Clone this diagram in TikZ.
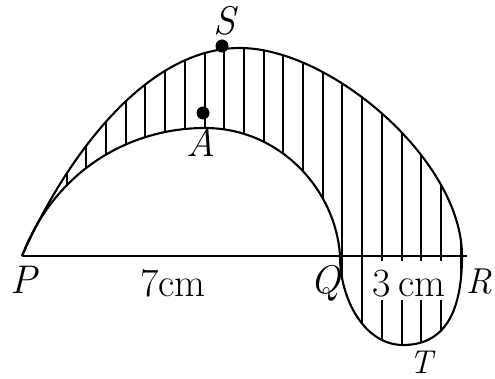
\documentclass[tikz,border=0pt]{standalone}
\begin{document}
\begin{tikzpicture}[x=1pt,y=-1pt,
  outline/.style={line width=2.1pt,line join=round},
  hatch/.style={line width=2pt},
  base/.style={line width=2.3pt},
  dot/.style={circle,fill=black,inner sep=0pt,minimum size=13pt},
  lbl/.style={font=\fontsize{40}{44}\selectfont\itshape,inner sep=0pt},
  num/.style={font=\fontsize{40}{44}\selectfont,inner sep=0pt}]
\useasboundingbox (0,0) rectangle (495,379);
\coordinate (P) at (22,256);
\coordinate (Q) at (340,256);
\coordinate (R) at (467,256);
\coordinate (T) at (403,345);
\coordinate (Stop) at (240,48);
\coordinate (Rs) at (462,256);
\coordinate (Atop) at (205,128);
\def\outerpath{(P) .. controls (60,170) and (140,48) .. (Stop)
  .. controls (330,48) and (462,160) .. (Rs)
  .. controls (462,319) and (440,345) .. (T)
  .. controls (365,345) and (340,300) .. (Q)}
\def\innerpath{(Q) .. controls (336,190) and (280,128) .. (Atop)
  .. controls (130,128) and (55,170) .. (P)}
% hatching
\begin{scope}
\clip \outerpath .. controls (336,190) and (280,128) .. (Atop)
  .. controls (130,128) and (55,170) .. (P) -- cycle;
\foreach \i in {0,...,21} {
  \pgfmathsetmacro{\hx}{round(47+19.7*\i)}
  \draw[hatch] (\hx,0) -- ++(0,379);
}
\end{scope}
% label box interrupting hatching
\node[num,fill=white,anchor=base,text height=35pt,text depth=4pt,inner xsep=1pt] (lQR) at (409,296) {3\hspace{0.18em}cm};
% outline
\draw[outline] \outerpath;
\draw[outline] \innerpath;
\draw[base] (P) -- (R);
% points
\node[dot] (S) at (222,46) {};
\node[dot] (A) at (203,113) {};
% labels
\node[lbl,anchor=base] (lS) at (224,35) {S};
\node[lbl,anchor=base] (lA) at (201,157) {A};
\node[lbl,anchor=base] (lP) at (24,294) {P};
\node[num,anchor=base] (lPQ) at (173,296) {7cm};
\node[lbl,anchor=base] (lQ) at (325,294) {Q};
\node[lbl,anchor=base west,font=\fontsize{36}{40}\selectfont\itshape] (lR) at (466,294) {R};
\node[lbl,anchor=base,font=\fontsize{33}{38}\selectfont\itshape] (lT) at (421,373) {T};
\end{tikzpicture}
\end{document}
